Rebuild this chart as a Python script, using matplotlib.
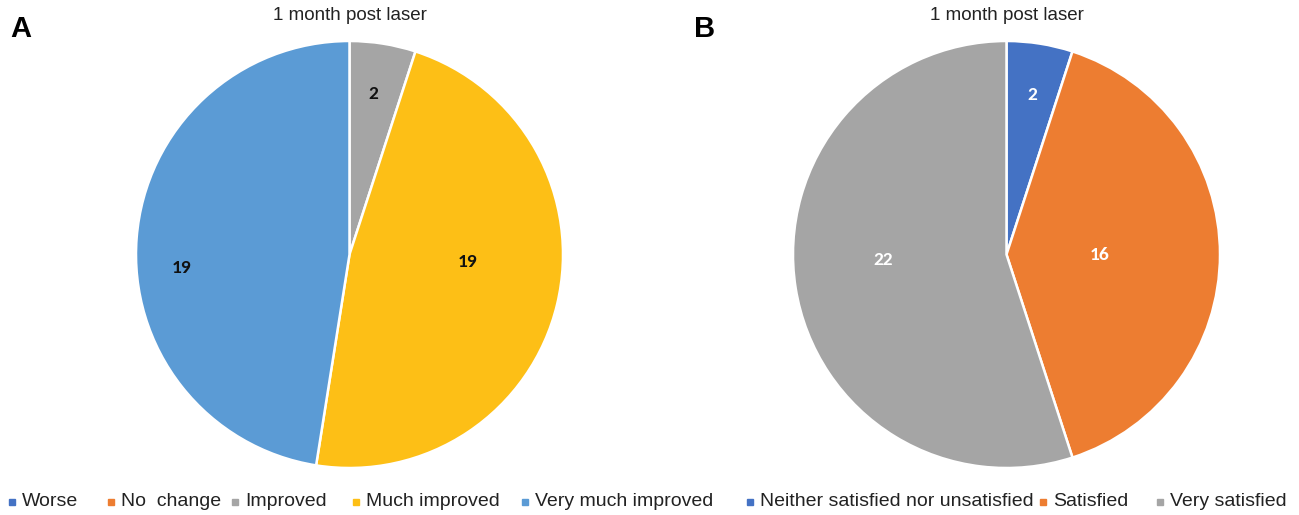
import matplotlib
matplotlib.use("Agg")
import matplotlib.pyplot as plt

plt.rcParams['font.family'] = ['Liberation Sans', 'DejaVu Sans']

# Panel A: change after treatment
a_categories = ["Worse", "No  change", "Improved", "Much improved", "Very much improved"]
a_counts = [0, 0, 2, 19, 19]
a_colors = ["#4472C4", "#ED7D31", "#A5A5A5", "#FDBF16", "#5B9BD5"]

# Panel B: patient satisfaction
b_categories = ["Neither satisfied nor unsatisfied", "Satisfied", "Very satisfied"]
b_counts = [2, 16, 22]
b_colors = ["#4472C4", "#ED7D31", "#A5A5A5"]

title_text = "1 month post laser"

W, H = 1299, 515
fig = plt.figure(figsize=(W / 100, H / 100), dpi=100)

R = 213.5  # pie radius in pixels


def px(x, y):
    # pixel position from the top-left corner -> figure fraction
    return x / W, 1 - y / H


def pie_axes(cx, cy):
    return fig.add_axes([(cx - R) / W, (H - cy - R) / H, 2 * R / W, 2 * R / H])


def draw_pie(ax, counts, colors, text_color, label_xy):
    vals = [v for v in counts if v > 0]
    cols = [c for v, c in zip(counts, colors) if v > 0]
    wedges, texts = ax.pie(vals, colors=cols, startangle=90, counterclock=False,
                           radius=1.0, labels=[str(v) for v in vals], labeldistance=0.6,
                           wedgeprops=dict(edgecolor="white", linewidth=1.8))
    for t, xy in zip(texts, label_xy):
        t.set_position(xy)
        t.set_ha("center")
        t.set_va("center")
        t.set_color(text_color)
        t.set_fontweight("bold")
        t.set_fontsize(14)
        t.set_family(["Carlito", "Liberation Sans", "DejaVu Sans"])
    ax.set_xlim(-1, 1)
    ax.set_ylim(-1, 1)
    ax.set_aspect("equal")
    ax.axis("off")


ax_a = pie_axes(349.5, 254.5)
draw_pie(ax_a, a_counts, a_colors, "#111111",
         [(0.11, 0.75), (0.555, -0.035), (-0.785, -0.063)])

ax_b = pie_axes(1006.5, 254.5)
draw_pie(ax_b, b_counts, b_colors, "white",
         [(0.119, 0.747), (0.438, -0.002), (-0.578, -0.026)])

# titles and panel letters
for cx in (349.5, 1006.5):
    fig.text(*px(cx, 15), title_text, ha="center", va="center", fontsize=13.5, color="#222222")
fig.text(*px(10, 29), "A", ha="left", va="center", fontsize=21, fontweight="bold")
fig.text(*px(694, 29), "B", ha="left", va="center", fontsize=21, fontweight="bold")

# legends: small coloured square followed by the category name
legend_y = 502
a_text_x = [22, 121, 245, 366, 535]
b_text_x = [760, 1053, 1170]


def draw_legend(labels, colors, text_x):
    for lab, col, x in zip(labels, colors, text_x):
        fig.lines.append(plt.Line2D([(x - 10) / W], [1 - legend_y / H], marker="s",
                                    markersize=5, linestyle="none", markerfacecolor=col,
                                    markeredgecolor=col, transform=fig.transFigure, figure=fig))
        fig.text(*px(x, legend_y), lab, ha="left", va="center", fontsize=14, color="#222222")


draw_legend(a_categories, a_colors, a_text_x)
draw_legend(b_categories, b_colors, b_text_x)

fig.savefig("out.png", dpi=100, facecolor="white")
